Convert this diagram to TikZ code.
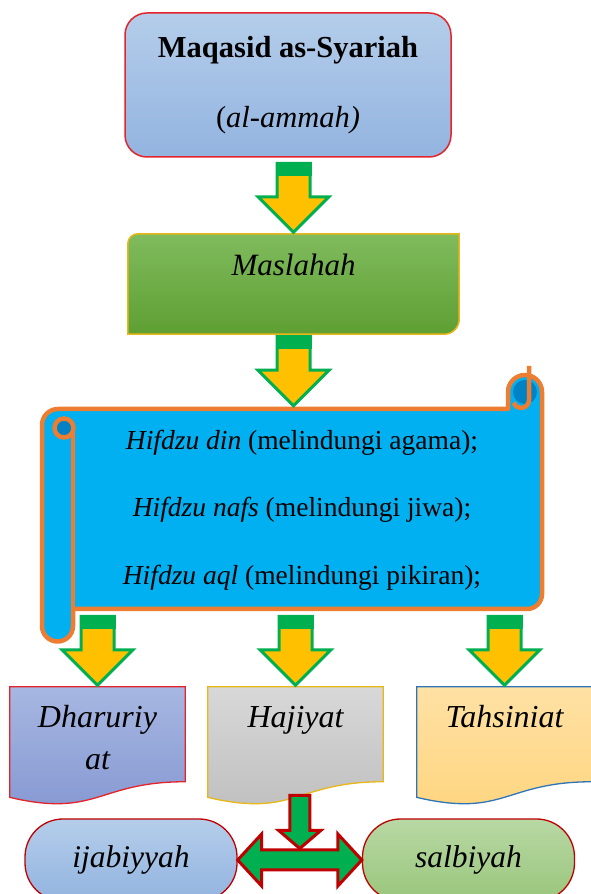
\documentclass[tikz,border=0pt]{standalone}
\usepackage{fontspec}
\setmainfont{Liberation Serif}
\usetikzlibrary{calc,backgrounds}

\definecolor{boxred}{HTML}{E3242B}
\definecolor{darkred}{HTML}{C00000}
\definecolor{arrowgreen}{HTML}{00B050}
\definecolor{arrowyellow}{HTML}{FFC000}
\definecolor{scrollblue}{HTML}{00B0F0}
\definecolor{scrolldark}{HTML}{0082C4}
\definecolor{scrollorange}{HTML}{ED7D31}
\definecolor{gold}{HTML}{E8B71A}
\definecolor{docblue}{HTML}{2E75B6}
\definecolor{lightblueA}{HTML}{B4CDEA}
\definecolor{lightblueB}{HTML}{93B4E0}
\definecolor{masA}{HTML}{80BB5D}
\definecolor{masB}{HTML}{5E9F33}
\definecolor{purpA}{HTML}{A7B7E2}
\definecolor{purpB}{HTML}{8497D1}
\definecolor{greyA}{HTML}{D8D8D8}
\definecolor{greyB}{HTML}{BEBEBE}
\definecolor{sandA}{HTML}{FFE1A4}
\definecolor{sandB}{HTML}{FFD57E}
\definecolor{sageA}{HTML}{B8D8A4}
\definecolor{sageB}{HTML}{9AC67C}

\begin{document}
\begin{tikzpicture}[
   x=1pt, y=1pt,
   every node/.append style={align=center},  % <-- multi-line labels
   mainbox/.style={draw=boxred, line width=1.5pt, rounded corners=22pt,
      top color=lightblueA, bottom color=lightblueB,
      minimum width=326pt, minimum height=144pt,
      font=\fontsize{30.5}{70}\selectfont},
   masbox/.style={minimum width=331pt, minimum height=100pt, inner ysep=0pt,
      text height=42pt, text depth=58pt, font=\fontsize{31}{38}\selectfont\itshape},
   scrolltext/.style={font=\fontsize{27.5}{67.5}\selectfont},
   docbox/.style={minimum width=175pt, minimum height=118pt, inner ysep=0pt,
      text height=41pt, text depth=77pt, font=\fontsize{32}{42}\selectfont\itshape},
   pill/.style={draw=darkred, line width=1.3pt, rounded corners=38pt,
      minimum width=212pt, minimum height=82pt, font=\fontsize{31.5}{37}\selectfont\itshape},
   scrollline/.style={draw=scrollorange, line width=4.5pt, line join=round},
   redarrow/.style={fill=arrowgreen, draw=darkred, line width=3pt, line join=miter}
]
\tikzset{
  downarrow/.pic={
    \filldraw[fill=arrowyellow, draw=arrowgreen, line width=3pt]
      (-16.5,70.5) -- (16.5,70.5) -- (16.5,37) -- (35.5,37) -- (0,1.5)
      -- (-35.5,37) -- (-16.5,37) -- cycle;
    \fill[arrowgreen] (-18,72) rectangle (18,58);
  }
}
\useasboundingbox (0,0) rectangle (590,894);

\node[mainbox] (top) at (288,809) {\textbf{Maqasid as-Syariah}\\(\textit{al-ammah)}};
\node[masbox] (mas) at (293.5,610) {Maslahah};
\node[scrolltext] (scroll) at (302,384) {\textit{Hifdzu din} (melindungi agama);\\
   \textit{Hifdzu nafs} (melindungi jiwa);\\
   \textit{Hifdzu aql} (melindungi pikiran);};
\node[docbox] (d1) at (97.5,148) {\begin{tabular}[t]{@{}c@{}}Dharuriy\\at\end{tabular}};
\node[docbox] (d2) at (295.5,148) {Hajiyat};
\node[docbox] (d3) at (504.5,148) {Tahsiniat};
\node[pill, top color=lightblueA, bottom color=lightblueB] (ija) at (131,34) {ijabiyyah};
\node[pill, top color=sageA, bottom color=sageB] (sal) at (468.5,34) {salbiyah};

% shapes behind the text
\begin{scope}[on background layer]
  \draw[draw=gold, line width=1.5pt, top color=masA, bottom color=masB]
    (mas.south west) -- ([yshift=-10pt]mas.north west)
    arc[start angle=180, end angle=90, radius=10pt] -- (mas.north east)
    -- ([yshift=15pt]mas.south east) arc[start angle=0, end angle=-90, radius=15pt] -- cycle;
  \draw[scrollline, fill=scrollblue]
    (58,485) -- (508,485) -- (508,502) arc[start angle=180, end angle=0, radius=17]
    -- (542,300) arc[start angle=0, end angle=-90, radius=15] -- (73,285)
    -- (73,268) arc[start angle=0, end angle=-180, radius=15.5]
    -- (42,469) arc[start angle=180, end angle=90, radius=16] -- cycle;
  \draw[scrollline] (73,285) -- (73,466);
  \draw[scrollline, fill=scrolldark] (64,466) circle (9.5);
  \fill[scrolldark] (525,502) circle (12);
  \draw[scrollline] (529,528) -- (529,494) arc[start angle=0, end angle=-160, radius=8];
  \foreach \n/\ca/\cb/\cl in {d1/purpA/purpB/boxred, d2/greyA/greyB/gold, d3/sandA/sandB/docblue}
    \draw[draw=\cl, line width=1.3pt, top color=\ca, bottom color=\cb]
      (\n.north west) -- (\n.north east) -- ($(\n.north east)!0.802!(\n.south east)$)
      .. controls ($(\n.north)!0.802!(\n.south)$) and ($(\n.north)!1.108!(\n.south)$)
      .. ($(\n.north west)!0.934!(\n.south west)$) -- cycle;
\end{scope}

\pic at (mas.north) {downarrow};
\path (mas.south) ++(0,-73) coordinate (scrolltop);
\pic at (scrolltop) {downarrow};
\foreach \n in {d1,d2,d3}
  \pic at (\n.north) {downarrow};

\filldraw[redarrow] (ija.east) -- ++(24,26) -- ++(0,-16) -- ($(sal.west)+(-24,10)$)
  -- ++(0,16) -- (sal.west) -- ++(-24,-26) -- ++(0,16) -- ($(ija.east)+(24,-10)$)
  -- ++(0,-16) -- cycle;
\coordinate (join) at ($(ija.east)!0.5!(sal.west)+(0,11.5)$);
\filldraw[redarrow] (join) -- ++(21,18) -- ++(-11,0) -- ++(0,35) -- ++(-20,0)
  -- ++(0,-35) -- ++(-11,0) -- cycle;
\end{tikzpicture}
\end{document}
